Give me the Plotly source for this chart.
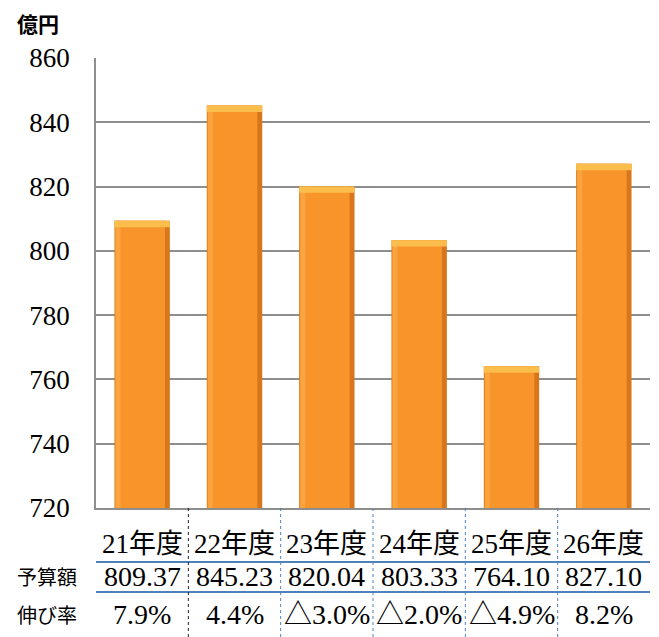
import plotly.graph_objects as go

years = ["21年度", "22年度", "23年度", "24年度", "25年度", "26年度"]
budget = [809.37, 845.23, 820.04, 803.33, 764.10, 827.10]
budget_labels = ["809.37", "845.23", "820.04", "803.33", "764.10", "827.10"]
growth_labels = ["7.9%", "4.4%", "△3.0%", "△2.0%", "△4.9%", "8.2%"]
row_labels = ["予算額", "伸び率"]
unit_label = "億円"
y_ticks = [720, 740, 760, 780, 800, 820, 840, 860]

xs = list(range(len(years)))
bevel = 2.0

SERIF = "Liberation Serif, Noto Sans CJK JP"
SANS = "Noto Sans CJK JP"
BLUE = "#4F81BD"

fig = go.Figure()
# dark edge
fig.add_trace(go.Bar(x=xs, y=budget, width=0.6, offset=-0.3,
                     marker=dict(color="#D8761C", line=dict(width=0)),
                     hoverinfo="skip", showlegend=False))
# main body
fig.add_trace(go.Bar(x=xs, y=budget, width=0.54, offset=-0.293,
                     marker=dict(color="#F7952B", line=dict(width=0)),
                     hoverinfo="skip", showlegend=False))
# left highlight
fig.add_trace(go.Bar(x=xs, y=budget, width=0.05, offset=-0.285,
                     marker=dict(color="#F9A43F", line=dict(width=0)),
                     hoverinfo="skip", showlegend=False))
# top bevel
fig.add_trace(go.Bar(x=xs, y=[bevel] * len(budget), base=[v - bevel for v in budget],
                     width=0.6, offset=-0.3,
                     marker=dict(color="#FBBE4C", line=dict(width=0)),
                     hoverinfo="skip", showlegend=False))

fig.update_layout(
    width=659, height=637,
    margin=dict(l=88, r=17, t=50, b=137),
    paper_bgcolor="white", plot_bgcolor="white",
    barmode="overlay",
    font=dict(family=SERIF, size=27, color="black"),
)
fig.update_xaxes(range=[-0.5, 5.5], showticklabels=False, showgrid=False,
                 showline=True, linecolor="#8E8E8E", linewidth=1.5, ticks="",
                 zeroline=False, fixedrange=True)
fig.update_yaxes(range=[720, 860], tickvals=y_ticks, showgrid=True,
                 gridcolor="#8E8E8E", gridwidth=1.5, showline=True,
                 linecolor="#8E8E8E", linewidth=1.5, ticks="",
                 ticklabelstandoff=19, zeroline=False,
                 tickfont=dict(family=SERIF, size=27, color="black"),
                 fixedrange=True)

ann = []
for i, (yr, b, g) in enumerate(zip(years, budget_labels, growth_labels)):
    ann.append(dict(x=i, y=-0.08, xref="x", yref="paper", text=yr, showarrow=False,
                    font=dict(family=SERIF, size=27), xanchor="center", yanchor="middle"))
    ann.append(dict(x=i, y=-0.153, xref="x", yref="paper", text=b, showarrow=False,
                    font=dict(family=SERIF, size=28), xanchor="center", yanchor="middle"))
    ann.append(dict(x=i, y=-0.2356, xref="x", yref="paper", text=g, showarrow=False,
                    font=dict(family=SERIF, size=28), xanchor="center", yanchor="middle"))
ann.append(dict(x=-0.088, y=-0.153, xref="paper", yref="paper", text=row_labels[0],
                showarrow=False, font=dict(family=SANS, size=20), xanchor="center", yanchor="middle"))
ann.append(dict(x=-0.088, y=-0.2356, xref="paper", yref="paper", text=row_labels[1],
                showarrow=False, font=dict(family=SANS, size=20), xanchor="center", yanchor="middle"))
ann.append(dict(x=-0.105, y=1.078, xref="paper", yref="paper", text="<b>" + unit_label + "</b>",
                showarrow=False, font=dict(family=SANS, size=21), xanchor="center", yanchor="middle",
                borderpad=0))
fig.update_layout(annotations=ann)

shapes = []
for yline in [-0.12, -0.1867]:
    shapes.append(dict(type="line", xref="paper", yref="paper", x0=0, x1=1, y0=yline, y1=yline,
                       line=dict(color=BLUE, width=2)))
for k in range(len(years) - 1):
    shapes.append(dict(type="line", xref="x", yref="paper", x0=k + 0.5, x1=k + 0.5,
                       y0=0, y1=-0.2867,
                       line=dict(color="#222222" if k == 0 else BLUE, width=1, dash="dot")))
fig.update_layout(shapes=shapes)

fig.write_html("out.html")
